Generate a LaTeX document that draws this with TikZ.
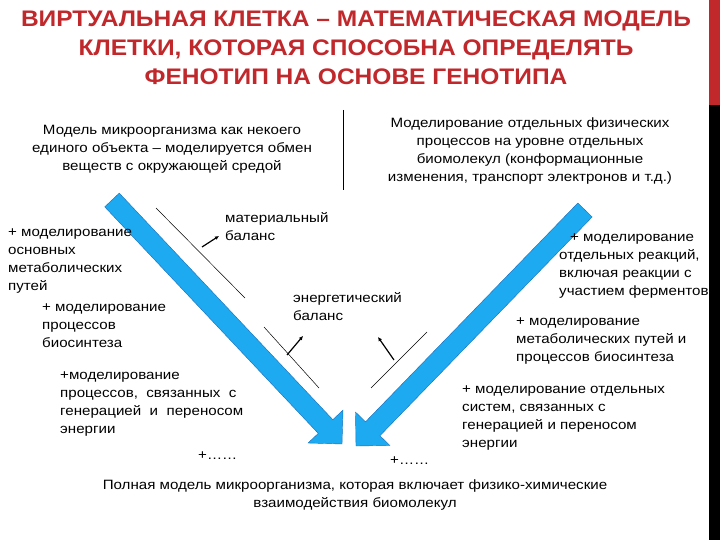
\documentclass[tikz,border=0pt]{standalone}
\usepackage{fontspec}
\setmainfont{Liberation Sans}
\newfontfamily\bodyf[FakeStretch=1.12]{Liberation Sans}
\newfontfamily\titlef[FakeStretch=1.09]{Liberation Sans}
\usetikzlibrary{calc,arrows.meta}
\definecolor{ttl}{RGB}{192,40,44}
\definecolor{arr}{RGB}{30,170,240}
\definecolor{arrb}{RGB}{20,110,190}
\tikzset{
  txt/.style={inner sep=0pt, font=\bodyf\fontsize{13.5}{18}\selectfont, align=left, anchor=north west},
  ctxt/.style={inner sep=0pt, font=\bodyf\fontsize{13.5}{18}\selectfont, align=center, anchor=north},
  thin line/.style={draw=black, line width=0.5pt},
  small arrow/.style={draw=black, line width=1.2pt, -{Latex[length=4pt,width=4pt]}},
  big arrow/.style={fill=arr, draw=arrb, line width=0.4pt}
}
\newcommand{\bigarr}[2]{%
  \coordinate (B) at ($(#2)!24pt!(#1)$);
  \filldraw[big arrow]
    ($(#1)!10pt!90:(#2)$) -- ($(B)!10pt!-90:(#1)$) -- ($(B)!24pt!-90:(#1)$) -- (#2)
    -- ($(B)!24pt!90:(#1)$) -- ($(B)!10pt!90:(#1)$) -- ($(#1)!10pt!-90:(#2)$) -- cycle;}
\begin{document}
\begin{tikzpicture}[x=1pt,y=-1pt]
\useasboundingbox (0,0) rectangle (720,540);
\fill[white] (0,0) rectangle (720,540);
\fill[ttl] (709,0) rectangle (720,105);
\fill[black] (709,105) rectangle (720,540);
\node[inner sep=0pt, font=\titlef\fontsize{22.5}{29}\bfseries\selectfont, text=ttl, align=center, anchor=north] (title) at (356,11)
 {ВИРТУАЛЬНАЯ КЛЕТКА – МАТЕМАТИЧЕСКАЯ МОДЕЛЬ\\КЛЕТКИ, КОТОРАЯ СПОСОБНА ОПРЕДЕЛЯТЬ\\ФЕНОТИП НА ОСНОВЕ ГЕНОТИПА};
\coordinate (v1) at (343,110); \coordinate (v2) at (343,190);
\draw[thin line] (v1) -- (v2);
\node[ctxt] (lt) at (172,125) {Модель микроорганизма как некоего\\единого объекта – моделируется обмен\\веществ с окружающей средой};
\node[ctxt] (rt) at (530,118) {Моделирование отдельных физических\\процессов на уровне отдельных\\биомолекул (конформационные\\изменения, транспорт электронов и т.д.)};
% big arrows
\coordinate (LT) at (112,200); \coordinate (LP) at (342,444);
\coordinate (RT) at (585,210); \coordinate (RP) at (356,446);
\bigarr{LT}{LP}
\bigarr{RT}{RP}
% thin lines
\coordinate (a1) at (156,208); \coordinate (a2) at (245,298);
\coordinate (b1) at (264,327); \coordinate (b2) at (319,388);
\coordinate (c1) at (427,332); \coordinate (c2) at (371,388);
\draw[thin line] (a1) -- (a2);
\draw[thin line] (b1) -- (b2);
\draw[thin line] (c1) -- (c2);
% small arrows
\coordinate (m1) at (202,247); \coordinate (m2) at (219,236);
\coordinate (e1) at (287,355); \coordinate (e2) at (303,336);
\coordinate (f1) at (394,360); \coordinate (f2) at (378,337);
\draw[small arrow] (m1) -- (m2);
\draw[small arrow] (e1) -- (e2);
\draw[small arrow] (f1) -- (f2);
% labels
\node[txt] (mb) at (225,212) {материальный\\баланс};
\node[txt] (eb) at (293,292) {энергетический\\баланс};
\node[txt] (l1) at (8,229) {+ моделирование\\основных\\метаболических\\путей};
\node[txt] (l2) at (42,304) {+ моделирование\\процессов\\биосинтеза};
\node[txt] (l3) at (60,372) {+моделирование\\процессов, \ связанных \ с\\генерацией \ и \ переносом\\энергии};
\node[txt] (l4) at (198,452) {+……};
\node[txt] (r1) at (559,234) {\hspace{11pt}+ моделирование\\отдельных реакций,\\включая реакции с\\участием ферментов};
\node[txt] (r2) at (516,318) {+ моделирование\\метаболических путей и\\процессов биосинтеза};
\node[txt] (r3) at (462,386) {+ моделирование отдельных\\систем, связанных с\\генерацией и переносом\\энергии};
\node[txt] (r4) at (390,457) {+……};
\node[ctxt] (bot) at (355,480) {Полная модель микроорганизма, которая включает физико-химические\\взаимодействия биомолекул};
\end{tikzpicture}
\end{document}
